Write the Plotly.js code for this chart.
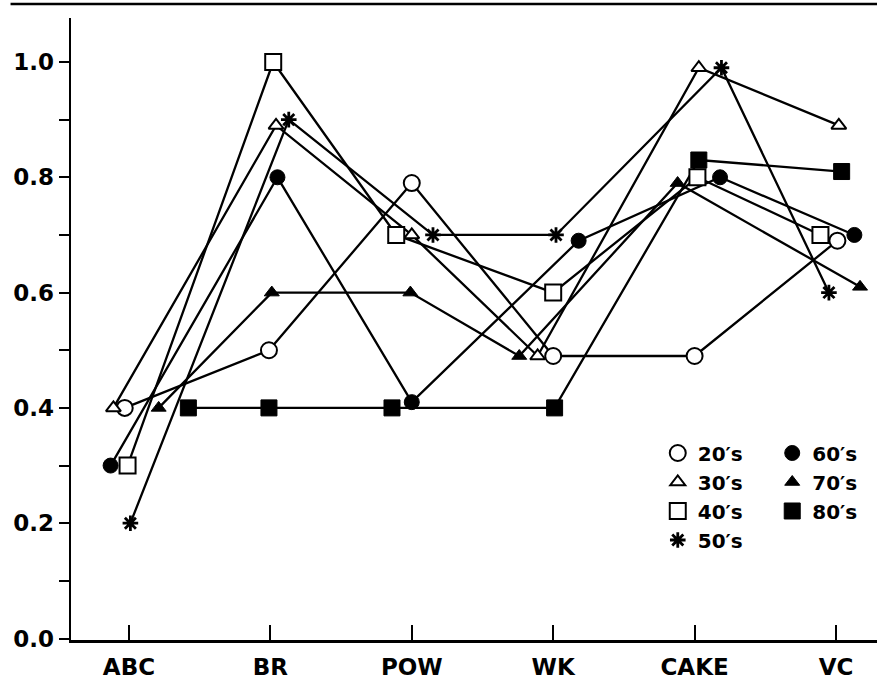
<!DOCTYPE html>
<html><head><meta charset="utf-8">
<script src="https://cdn.plot.ly/plotly-3.0.1.min.js"></script>
<style>html,body{margin:0;padding:0;background:#fff}</style>
</head><body><div id="chart" style="width:877px;height:686px"></div>
<script>
// ---- data ----
const categories = ['ABC', 'BR', 'POW', 'WK', 'CAKE', 'VC'];
const seriesNames = ['20′s', '30′s', '40′s', '50′s', '60′s', '70′s', '80′s'];
const v20s = [0.40, 0.50, 0.79, 0.49, 0.49, 0.69];
const v30s = [0.40, 0.89, 0.70, 0.49, 0.99, 0.89];
const v40s = [0.30, 1.00, 0.70, 0.60, 0.80, 0.70];
const v50s = [0.20, 0.90, 0.70, 0.70, 0.99, 0.60];
const v60s = [0.30, 0.80, 0.41, 0.69, 0.80, 0.70];
const v70s = [0.40, 0.60, 0.60, 0.49, 0.79, 0.61];
const v80s = [0.40, 0.40, 0.40, 0.40, 0.83, 0.81];
const yTickVals = [0, 0.1, 0.2, 0.3, 0.4, 0.5, 0.6, 0.7, 0.8, 0.9, 1.0];
const yTickText = ['0.0', '', '0.2', '', '0.4', '', '0.6', '', '0.8', '', '1.0'];

// ---- drawing offsets (styling: horizontal spread of symbols within a category) ----
const spread = [
  [-0.03, -0.01, 0.00, 0.00, 0.00, 0.01],
  [-0.11, 0.04, 0.00, -0.11, 0.03, 0.02],
  [-0.01, 0.02, -0.11, 0.00, 0.02, -0.11],
  [0.01, 0.13, 0.15, 0.02, 0.19, -0.05],
  [-0.13, 0.05, 0.00, 0.18, 0.18, 0.13],
  [0.21, 0.01, -0.01, -0.24, -0.12, 0.17],
  [0.42, -0.01, -0.14, 0.01, 0.03, 0.04]
];
const values = [v20s, v30s, v40s, v50s, v60s, v70s, v80s];
const styles = [
  {symbol: 'circle', color: '#fff', size: 16, lw: 2},
  {symbol: 'triangle-up', color: '#fff', size: 13, lw: 2},
  {symbol: 'square', color: '#fff', size: 16, lw: 2},
  {symbol: 'asterisk-open', color: '#000', size: 13, lw: 2.8},
  {symbol: 'circle', color: '#000', size: 15, lw: 1},
  {symbol: 'triangle-up', color: '#000', size: 13, lw: 1},
  {symbol: 'square', color: '#000', size: 16, lw: 1}
];

const xs = values.map((v, s) => v.map((_, i) => i + spread[s][i]));
const traces = [];
values.forEach((v, s) => {
  traces.push({
    x: xs[s], y: v, type: 'scatter', mode: 'lines', showlegend: false,
    line: {color: '#000', width: 2.3}, hoverinfo: 'skip'
  });
});
values.forEach((v, s) => {
  const st = styles[s];
  traces.push({
    x: xs[s], y: v, type: 'scatter', mode: 'markers', name: seriesNames[s],
    legend: s < 4 ? 'legend' : 'legend2',
    marker: {symbol: st.symbol, size: st.size, color: st.color,
             line: {color: '#000', width: st.lw}}
  });
});

const font = {family: 'DejaVu Sans', color: '#000', weight: 'bold'};
const xr = [-0.41, 5.29];
const layout = {
  width: 877, height: 686,
  margin: {l: 71, r: 0, t: 18, b: 46},
  paper_bgcolor: '#fff', plot_bgcolor: '#fff',
  xaxis: {
    range: xr, tickvals: [0, 1, 2, 3, 4, 5], ticktext: categories,
    showgrid: false, zeroline: false, showline: true, linecolor: '#000', linewidth: 2.5,
    ticks: 'inside', ticklen: 15, tickwidth: 2, tickcolor: '#000', ticklabelstandoff: 5,
    tickfont: Object.assign({size: 23}, font), fixedrange: true
  },
  xaxis2: {
    overlaying: 'x', range: xr, tickvals: [0, 1, 2, 3, 4, 5], side: 'bottom',
    showticklabels: false, showgrid: false, zeroline: false, showline: false,
    ticks: 'outside', ticklen: 11, tickwidth: 2, tickcolor: '#000', fixedrange: true
  },
  yaxis: {
    range: [-0.0026, 1.0763], tickvals: yTickVals, ticktext: yTickText,
    showgrid: false, zeroline: false, showline: true, linecolor: '#000', linewidth: 2.5,
    ticks: 'outside', ticklen: 10, tickwidth: 2, tickcolor: '#000',
    tickfont: Object.assign({size: 23}, font), fixedrange: true
  },
  legend: {
    x: 0.728, y: 0.332, xanchor: 'left', yanchor: 'top',
    bgcolor: 'rgba(0,0,0,0)', font: Object.assign({size: 20}, font)
  },
  legend2: {
    x: 0.870, y: 0.332, xanchor: 'left', yanchor: 'top',
    bgcolor: 'rgba(0,0,0,0)', font: Object.assign({size: 20}, font)
  },
  shapes: [{
    type: 'line', xref: 'paper', yref: 'paper',
    x0: -0.075, x1: 1, y0: 1.0225, y1: 1.0225,
    line: {color: '#000', width: 2.5}
  }]
};
Plotly.newPlot('chart', traces, layout, {displayModeBar: false, staticPlot: true});
</script>
</body></html>
